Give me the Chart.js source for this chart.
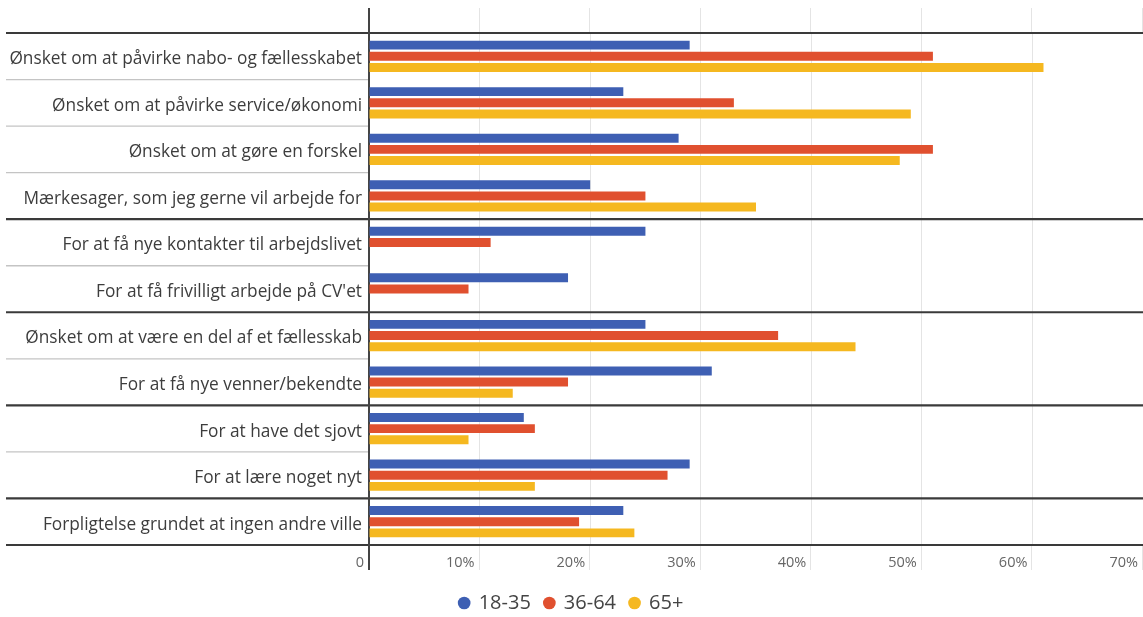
<!DOCTYPE html>
<html>
<head>
<meta charset="utf-8">
<script src="https://cdn.jsdelivr.net/npm/chart.js@4"></script>
<style>
    html, body { margin: 0; padding: 0; background: #fff; }
    #wrap { width: 1143px; height: 617px; }
</style>
</head>
<body>
<div id="wrap"><canvas id="chart"></canvas></div>
<script>
const categories = [
    "Ønsket om at påvirke nabo- og fællesskabet",
    "Ønsket om at påvirke service/økonomi",
    "Ønsket om at gøre en forskel",
    "Mærkesager, som jeg gerne vil arbejde for",
    "For at få nye kontakter til arbejdslivet",
    "For at få frivilligt arbejde på CV'et",
    "Ønsket om at være en del af et fællesskab",
    "For at få nye venner/bekendte",
    "For at have det sjovt",
    "For at lære noget nyt",
    "Forpligtelse grundet at ingen andre ville"
];
const age18to35 = [29, 23, 28, 20, 25, 18, 25, 31, 14, 29, 23];
const age36to64 = [51, 33, 51, 25, 11, 9, 37, 18, 15, 27, 19];
const age65plus = [61, 49, 48, 35, null, null, 44, 13, 9, 15, 24];
const xTickLabels = ["0", "10%", "20%", "30%", "40%", "50%", "60%", "70%"];
// rows after which a dark separator is drawn
const groupBreaks = [3, 5, 7, 9];

const FONT = "'Open Sans', sans-serif";

// separators, extended grid lines and the axis line
const framePlugin = {
    id: "frame",
    beforeDatasetsDraw(chart) {
        const ctx = chart.ctx;
        const area = chart.chartArea;
        const x = chart.scales.x;
        const y = chart.scales.y;
        const top = 8, bottom = 570;
        ctx.save();

        // grid line extensions above and below the plot
        ctx.strokeStyle = "#e4e4e4";
        ctx.lineWidth = 1;
        x.ticks.forEach(t => {
            if (t.value === 0) return;
            const px = Math.round(x.getPixelForValue(t.value)) - 0.5;
            ctx.beginPath();
            ctx.moveTo(px, top);
            ctx.lineTo(px, area.top);
            ctx.moveTo(px, area.bottom);
            ctx.lineTo(px, bottom);
            ctx.stroke();
        });

        // row separators
        const half = (y.getPixelForValue(1) - y.getPixelForValue(0)) / 2;
        for (let i = -1; i < categories.length; i++) {
            const py = y.getPixelForValue(i) + half;
            const dark = i === -1 || i === categories.length - 1 || groupBreaks.includes(i);
            ctx.beginPath();
            if (dark) {
                ctx.strokeStyle = "#3a3a3a";
                ctx.lineWidth = 2.2;
                ctx.moveTo(6, py);
                ctx.lineTo(chart.width, py);
            } else {
                ctx.strokeStyle = "#c4c4c4";
                ctx.lineWidth = 1.3;
                ctx.moveTo(6, py);
                ctx.lineTo(area.left, py);
            }
            ctx.stroke();
        }

        // value axis line
        ctx.strokeStyle = "#444";
        ctx.lineWidth = 2;
        ctx.beginPath();
        ctx.moveTo(area.left, top);
        ctx.lineTo(area.left, bottom);
        ctx.stroke();
        ctx.restore();
    }
};

new Chart(document.getElementById("chart"), {
    type: "bar",
    data: {
        labels: categories,
        datasets: [
            { label: "18-35", data: age18to35, backgroundColor: "#3e5fb3" },
            { label: "36-64", data: age36to64, backgroundColor: "#e0502f" },
            { label: "65+", data: age65plus, backgroundColor: "#f5b820" }
        ]
    },
    options: {
        indexAxis: "y",
        responsive: true,
        maintainAspectRatio: false,
        animation: false,
        layout: { padding: { top: 33, right: 0, left: 0, bottom: -6 } },
        datasets: {
            bar: {
                categoryPercentage: 0.72,
                barPercentage: 0.8
            }
        },
        scales: {
            x: {
                min: 0,
                max: 70,
                ticks: {
                    stepSize: 10,
                    align: "end",
                    labelOffset: -5,
                    padding: 9,
                    color: "#666",
                    font: { family: FONT, size: 14.5 },
                    callback: (value, index) => xTickLabels[index]
                },
                grid: {
                    color: ctx => ctx.tick && ctx.tick.value === 0 ? "rgba(0,0,0,0)" : "#e4e4e4",
                    drawTicks: false
                },
                border: { display: false },
                afterFit: scale => {
                    scale.height = 34;
                    scale.paddingRight = 0;
                }
            },
            y: {
                ticks: {
                    padding: 7,
                    labelOffset: 3,
                    color: "#3d3d3d",
                    font: { family: FONT, size: 17.3 }
                },
                grid: { display: false, drawTicks: false },
                border: { display: false },
                afterFit: scale => { scale.width = 369; }
            }
        },
        plugins: {
            legend: {
                position: "bottom",
                labels: {
                    usePointStyle: true,
                    pointStyle: "circle",
                    boxWidth: 9,
                    boxHeight: 9,
                    padding: 14,
                    color: "#444",
                    font: { family: FONT, size: 20 }
                }
            },
            tooltip: { enabled: false }
        }
    },
    plugins: [framePlugin]
});
</script>
</body>
</html>
